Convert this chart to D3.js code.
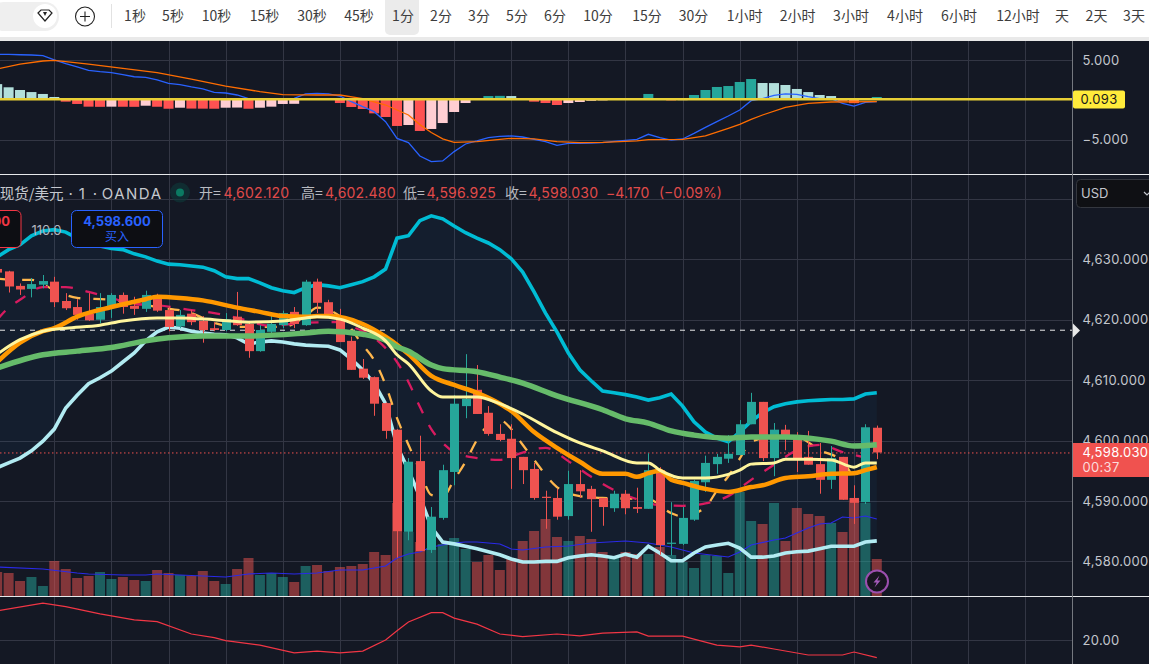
<!DOCTYPE html>
<html lang="zh">
<head>
<meta charset="utf-8">
<title>黄金现货/美元 1分钟图</title>
<script src="https://cdn.jsdelivr.net/npm/d3@7/dist/d3.min.js"></script>
<style>
html,body{margin:0;padding:0;background:#141824;overflow:hidden}
svg{display:block}
text{font-family:Inter,"Noto Sans CJK SC",sans-serif}
.cn{font-family:"Noto Sans CJK SC",Inter,sans-serif}
</style>
</head>
<body>
<svg id="chart" width="1149" height="664"></svg>
<script>
// Candle index of the first entry in every per-candle array below.
const firstCandle = -5;

const opens = [
4628.4,4628.0,4625.6,4625.1,4625.8,4626.3,4623.1,4622.1,4621.0,4620.0,
4622.1,4624.1,4622.3,4621.8,4624.1,4621.6,4618.9,4621.0,4619.8,4618.6,
4618.3,4620.5,4619.3,4614.8,4618.0,4619.1,4621.3,4619.1,4626.3,4622.9,
4620.5,4616.5,4611.9,4610.5,4606.2,4601.8,4584.9,4596.6,4581.9,4587.2,
4594.8,4605.7,4608.4,4604.6,4601.1,4600.3,4597.3,4595.3,4590.7,4590.5,
4587.5,4592.8,4592.0,4590.5,4588.8,4591.2,4589.0,4588.7,4595.1,4582.9,
4582.9,4586.9,4593.1,4596.1,4597.0,4597.6,4602.7,4606.4,4597.1,4601.8,
4600.8,4597.3,4596.1,4593.5,4597.3,4590.5,4589.8,4602.12];
const highs = [
4628.6,4628.1,4626.0,4626.9,4627.4,4627.1,4624.4,4623.4,4624.4,4624.4,
4624.4,4624.5,4623.8,4624.8,4624.3,4622.2,4621.6,4621.6,4620.6,4619.6,
4621.1,4624.6,4619.6,4619.1,4620.8,4621.5,4622.1,4626.6,4626.8,4623.3,
4621.8,4617.2,4613.5,4610.6,4606.3,4601.9,4597.1,4600.8,4589.0,4596.0,
4607.5,4614.3,4612.5,4605.7,4602.7,4602.7,4597.3,4596.3,4591.7,4592.0,
4595.0,4595.1,4592.5,4590.5,4591.7,4591.8,4592.2,4597.9,4595.6,4589.8,
4589.0,4593.5,4597.5,4597.8,4600.9,4603.4,4607.9,4606.4,4602.9,4602.6,
4601.4,4601.6,4599.6,4599.1,4597.3,4592.6,4602.7,4602.48];
const lows = [
4627.6,4624.5,4624.1,4623.7,4625.2,4622.1,4621.6,4620.0,4619.8,4619.4,
4620.3,4621.0,4620.8,4621.3,4621.3,4618.1,4618.6,4619.1,4616.2,4618.1,
4618.1,4619.0,4613.7,4614.7,4617.8,4618.6,4618.6,4619.0,4621.1,4620.5,
4616.3,4611.7,4610.2,4604.1,4600.3,4580.6,4583.5,4581.7,4581.4,4586.9,
4592.6,4603.7,4604.4,4600.8,4599.9,4592.0,4592.8,4590.2,4585.4,4586.9,
4586.9,4590.5,4584.9,4585.9,4588.2,4587.8,4588.0,4588.7,4581.1,4581.0,
4582.7,4586.7,4591.5,4594.5,4596.3,4597.6,4602.7,4596.6,4594.1,4598.4,
4594.8,4596.0,4591.2,4592.0,4590.2,4586.2,4589.5,4596.925];
const closes = [
4627.8,4625.5,4625.0,4625.9,4626.4,4622.9,4621.9,4620.8,4619.9,4622.1,
4624.1,4622.1,4621.8,4624.1,4621.5,4618.8,4620.8,4619.6,4618.3,4618.3,
4620.1,4619.1,4614.8,4618.3,4619.3,4621.1,4619.3,4626.3,4622.8,4620.5,
4616.3,4611.7,4610.4,4606.1,4601.6,4585.0,4596.5,4581.7,4587.4,4595.1,
4606.1,4606.9,4604.4,4601.1,4600.1,4597.1,4595.1,4590.5,4590.5,4587.4,
4592.8,4591.6,4590.3,4589.0,4591.2,4588.8,4588.7,4595.1,4582.7,4583.1,
4587.2,4593.3,4596.3,4597.3,4597.8,4602.7,4606.4,4597.1,4601.8,4600.8,
4597.1,4596.0,4593.5,4597.1,4590.2,4589.7,4602.2,4598.03];
const volumes = [
24,23,15,19,10,35,27,18,20,24,17,19,16,15,26,23,21,20,25,15,
12,27,38,21,23,19,14,30,31,25,29,30,32,44,41,93,64,54,48,52,
58,47,34,41,26,38,55,65,77,59,55,60,57,44,38,44,42,42,49,41,
34,28,41,40,23,104,75,72,93,55,88,82,80,73,64,98,93,37];

const upperBand = [
4630.4,4631.6,4632.4,4633.9,4634.7,4634.9,4634.5,4633.5,4632.7,4632.2,
4631.8,4631.6,4630.9,4630.4,4629.7,4629.2,4629.1,4628.9,4628.7,4628.1,
4627.1,4626.8,4626.8,4626.1,4625.3,4624.8,4624.5,4625.3,4625.8,4625.6,
4625.3,4625.8,4626.3,4627.1,4628.4,4633.5,4633.9,4636.4,4637.2,4636.7,
4635.5,4634.4,4633.5,4632.7,4631.6,4630.1,4627.9,4624.6,4621.1,4618.0,
4614.5,4611.7,4609.9,4608.2,4607.9,4607.6,4607.2,4606.7,4607.1,4607.7,
4605.7,4603.1,4601.4,4600.4,4599.8,4601.4,4603.2,4604.6,4605.6,4606.1,
4606.4,4606.6,4606.7,4606.8,4606.8,4606.9,4607.7,4607.9];
const lowerBand = [
4595.5,4596.3,4597.1,4598.3,4599.9,4601.9,4605.4,4607.5,4609.4,4610.4,
4611.5,4613.0,4614.5,4616.5,4618.0,4618.8,4618.6,4618.1,4617.8,4617.6,
4617.5,4617.0,4616.0,4616.3,4616.5,4616.3,4616.0,4615.8,4615.7,4615.6,
4615.0,4613.5,4611.7,4609.5,4606.1,4599.1,4595.1,4590.7,4585.7,4583.2,
4582.9,4582.5,4582.1,4581.6,4581.1,4580.4,4579.9,4579.9,4580.0,4580.0,
4580.6,4580.9,4581.1,4580.9,4580.6,4581.2,4580.7,4582.5,4581.4,4580.1,
4580.1,4581.4,4582.4,4582.7,4583.0,4582.2,4580.7,4580.7,4580.9,4581.4,
4581.6,4581.7,4582.1,4582.5,4582.5,4582.5,4583.2,4583.4];

// Moving averages, as [candle index, value] pairs.
const orangeAvg = [[-5,4613.0],[-3,4616.2],[-1,4618.1],[0,4618.6],[2,4620.5],[5,4622.1],[8,4623.4],[9,4623.8],[11,4623.6],[13,4623.2],[16,4622.0],[18,4621.3],[20,4620.6],[22,4620.5],[23,4620.6],[24,4620.6],[27,4619.3],[29,4617.2],[31,4614.3],[33,4610.7],[35,4609.2],[37,4607.9],[39,4606.1],[40,4604.9],[42,4601.4],[44,4598.8],[46,4596.5],[48,4594.5],[50,4594.5],[51,4594.0],[52,4594.6],[53,4595.0],[54,4593.5],[55,4593.0],[57,4592.0],[59,4591.5],[61,4592.3],[62,4592.6],[64,4593.8],[66,4594.1],[68,4594.5],[70,4594.6],[71,4595.1],[72,4595.6]];
const creamAvg = [[-5,4614.3],[-3,4616.7],[-1,4618.1],[1,4618.6],[4,4619.1],[6,4619.8],[9,4620.3],[11,4620.3],[14,4620.0],[17,4619.6],[20,4619.8],[22,4620.3],[23,4620.5],[25,4620.1],[27,4618.6],[29,4616.5],[30,4614.2],[31,4612.7],[33,4608.2],[34,4607.2],[37,4607.2],[39,4606.1],[41,4604.4],[44,4601.3],[46,4599.6],[48,4598.3],[51,4596.3],[52,4596.3],[53,4595.1],[55,4593.8],[57,4593.8],[59,4594.4],[60,4595.1],[61,4596.1],[63,4596.3],[64,4596.9],[66,4596.9],[68,4596.8],[70,4595.6],[71,4596.3],[72,4596.3]];
const greenAvg = [[-5,4612.0],[-1,4614.2],[2,4614.8],[5,4615.4],[8,4616.5],[10,4617.0],[13,4617.3],[17,4617.3],[22,4617.8],[24,4618.1],[27,4617.6],[29,4616.6],[30,4615.5],[31,4614.8],[33,4612.5],[34,4611.9],[37,4611.4],[39,4610.5],[41,4609.5],[44,4607.4],[48,4605.1],[50,4603.6],[52,4602.9],[54,4601.6],[56,4600.9],[59,4600.4],[61,4600.6],[64,4600.6],[68,4599.9],[70,4599.1],[72,4599.3]];
const pinkAvg = [[-5,4620.0],[-4,4622.0],[-3,4623.3],[-1,4625.4],[1,4625.4],[3,4624.6],[5,4623.6],[7,4622.6],[9,4622.4],[12,4621.6],[14,4621.1],[16,4620.3],[19,4619.0],[22,4619.5],[25,4619.6],[26,4618.9],[28,4617.0],[29,4615.3],[30,4613.0],[31,4609.7],[32,4605.6],[33,4601.9],[34,4599.6],[35,4598.1],[37,4597.1],[39,4596.8],[41,4598.0],[43,4598.8],[45,4596.6],[47,4594.0],[49,4591.8],[51,4590.3],[53,4589.3],[55,4589.2],[57,4589.6],[59,4590.8],[61,4593.5],[63,4596.0],[65,4598.4],[67,4599.3],[69,4598.1],[72,4596.8]];
const tanAvg = [[-5,4626.8],[-3,4626.6],[-2,4626.6],[0,4624.9],[2,4623.6],[5,4623.3],[9,4622.1],[12,4621.1],[14,4619.5],[16,4618.8],[20,4618.8],[22,4620.6],[23,4622.0],[25,4620.6],[27,4615.8],[28,4613.3],[29,4609.2],[30,4603.7],[31,4599.3],[32,4595.1],[33,4591.0],[34,4590.7],[35,4593.5],[36,4596.5],[37,4600.1],[38,4602.6],[39,4603.4],[40,4601.9],[41,4599.3],[42,4596.8],[44,4592.3],[46,4590.8],[48,4590.5],[52,4590.3],[54,4588.0],[55,4587.4],[57,4589.0],[58,4591.7],[59,4594.1],[60,4597.0],[61,4599.8],[63,4600.6],[65,4600.6],[67,4598.4],[69,4596.6],[70,4593.6]];
const volumeAvg = [[-5,29],[-1,27],[2,23],[3,22],[6,21],[8,21],[9,22],[11,21],[15,19],[17,22],[19,23],[21,22],[23,23],[25,26],[27,26],[29,30],[30,38],[31,42],[32,44],[33,49],[34,51],[35,53],[36,54],[37,54],[39,52],[40,47],[41,46],[43,49],[45,50],[47,53],[50,55],[52,53],[54,49],[55,46],[56,43],[59,39],[60,44],[61,51],[63,56],[64,58],[66,68],[67,72],[68,73],[69,79],[70,78],[71,80],[72,77]];

const macdHist = [
2.0,1.6,1.26,1.0,0.76,0.38,-0.21,-0.5,-0.84,-0.86,
-0.84,-0.85,-0.86,-0.72,-0.85,-1.1,-0.97,-1.08,-1.09,-1.1,
-0.97,-0.95,-1.1,-0.97,-0.84,-0.5,-0.48,0.05,0.25,0.1,
-0.38,-0.88,-1.13,-1.68,-2.14,-3.27,-3.15,-3.9,-3.65,-2.9,
-1.51,-0.38,0.25,0.5,0.52,0.5,0.25,-0.21,-0.38,-0.63,
-0.38,-0.25,-0.1,-0.05,0.02,0.2,0.21,0.76,0.25,-0.05,
-0.02,0.63,1.26,1.64,1.76,2.27,2.64,2.14,2.13,1.89,
1.39,1.0,0.63,0.5,-0.1,-0.4,0.25,0.38];
const macdLine = [
5.75,5.75,5.7,5.67,5.58,5.04,4.57,4.16,3.74,3.57,
3.44,3.19,2.93,2.86,2.52,2.1,1.93,1.64,1.39,0.97,
0.88,0.63,0.17,0.17,0.17,0.17,0.21,0.76,0.84,0.76,
0.5,-0.21,-0.84,-1.47,-2.73,-4.83,-5.37,-7.05,-7.77,-7.68,
-6.5,-5.54,-5.16,-4.74,-4.58,-4.53,-4.66,-4.95,-5.25,-5.71,
-5.46,-5.46,-5.42,-5.37,-5.2,-5.08,-4.95,-4.32,-4.74,-5.04,
-4.91,-4.2,-3.44,-2.73,-2.02,-1.26,-0.08,0.17,0.59,0.76,
0.71,0.42,0.17,0.17,-0.42,-0.76,-0.29,-0.21];
const signalLine = [[-5,3.9],[-3,4.53],[-1,4.91],[0,5.0],[3,4.53],[6,3.99],[9,3.44],[12,2.64],[15,1.76],[18,1.05],[20,0.67],[23,0.63],[25,0.63],[27,0.17],[29,-0.63],[31,-1.89],[32,-3.1],[33,-4.1],[34,-4.9],[35,-5.33],[37,-5.25],[40,-4.83],[42,-4.9],[44,-5.25],[46,-5.37],[48,-5.33],[51,-5.16],[52,-5.0],[55,-4.95],[57,-4.53],[59,-3.57],[60,-3.06],[61,-2.43],[62,-1.89],[64,-0.92],[66,-0.42],[68,-0.25],[72,-0.21]];

const lowerPaneLine = [[-5,29.7],[-1,32.3],[1,31.1],[4,28.7],[7,26.7],[9,26.1],[12,22],[14,20.8],[15,19.8],[18,18.3],[21,15.7],[23,16.3],[25,15.7],[27,16.3],[29,20],[30,23.1],[31,26],[33,29.1],[34,29.1],[35,27.3],[37,25.3],[39,22],[41,21.1],[44,22],[46,21.4],[48,22.3],[51,22.7],[52,21.3],[55,21.3],[58,18.3],[60,17.7],[61,18.3],[63,17],[66,15],[69,15],[70,16],[72,14.1]];

const priceTicks = [4580,4590,4600,4610,4620,4630];
const macdTicks = [5,-5];
const lowerTicks = [20];
const gridCandles = [0,5,10,15,20,25,30,35,40,45,50,55,60,65,70,75,80,85];
const lastPrice = 4598.03, dashedLevel = 4618.26, macdCurrent = 0.093;

const toolbarLabels = ["1秒","5秒","10秒","15秒","30秒","45秒","1分","2分","3分","5分","6分","10分","15分","30分","1小时","2小时","3小时","4小时","6小时","12小时","天","2天","3天"];
const toolbarCenters = [135,173,216.5,264.5,312,359,403,441,479,517,555,598,647,693.5,744.6,797.7,851,905,959,1018,1062,1096.5,1134];
const ohlcLabels = [["开=","4,602.120",199,223.4],["高=","4,602.480",301,325],["低=","4,596.925",403,426.6],["收=","4,598.030",505,528.5]];

const colors = {bg:"#141824",grid:"#333644",up:"#26a69a",down:"#ef5350",axisText:"#c3c6cd",sep:"#e6e8ea"};

const svg = d3.select("#chart");
const W = 1149, H = 664, axisX = 1072;

const x = d3.scaleLinear().domain([0,72]).range([54.3,876.8]);
const yPrice = d3.scaleLinear().domain([4580,4630]).range([561.4,259.3]);
const yVol = d3.scaleLinear().domain([0,120]).range([596,476]);
const yMacd = d3.scaleLinear().domain([-5,5]).range([139.7,60.3]);
const yLower = d3.scaleLinear().domain([20,30]).range([640,610]);

const candles = opens.map((o,i)=>({k:i+firstCandle,o,h:highs[i],l:lows[i],c:closes[i],v:volumes[i],up:closes[i]>=o}));
const at = arr => arr.map((v,i)=>[i+firstCandle,v]);

svg.append("rect").attr("width",W).attr("height",H).attr("fill",colors.bg);

// Clip regions for each pane
const defs = svg.append("defs");
[["clipMain",0,175,axisX,421],["clipMacd",0,41,axisX,133],["clipLower",0,597,axisX,67]].forEach(([id,a,b,w,h])=>{
  defs.append("clipPath").attr("id",id).append("rect").attr("x",a).attr("y",b).attr("width",w).attr("height",h);
});

// Grid
const grid = svg.append("g").attr("stroke",colors.grid).attr("stroke-width",1);
grid.selectAll("line.v").data(gridCandles).join("line").attr("class","v")
  .attr("x1",d=>Math.round(x(d))+.5).attr("x2",d=>Math.round(x(d))+.5).attr("y1",41).attr("y2",H);
const hLines = [...priceTicks,4640].map(yPrice).concat(macdTicks.map(yMacd),lowerTicks.map(yLower));
grid.selectAll("line.h").data(hLines).join("line").attr("class","h")
  .attr("x1",0).attr("x2",axisX).attr("y1",d=>Math.round(d)+.5).attr("y2",d=>Math.round(d)+.5);

// MACD pane
const macdPane = svg.append("g").attr("clip-path","url(#clipMacd)");
macdPane.selectAll("rect").data(macdHist.map((v,i)=>({k:i+firstCandle,v,prev:i?macdHist[i-1]:v+1}))).join("rect")
  .attr("x",d=>x(d.k)-5).attr("width",10)
  .attr("y",d=>Math.min(yMacd(0),yMacd(d.v)))
  .attr("height",d=>Math.abs(yMacd(d.v)-yMacd(0)))
  .attr("fill",d=>d.v>=0?(d.v>d.prev?"#26a69a":"#b2dfdb"):(d.v<d.prev?"#ff5252":"#ffcdd2"));
const xyLine = (yS,curve=d3.curveLinear)=>d3.line().x(d=>x(d[0])).y(d=>yS(d[1])).curve(curve);
macdPane.append("path").attr("d",xyLine(yMacd)(at(macdLine))).attr("fill","none").attr("stroke","#2962ff").attr("stroke-width",1.3);
macdPane.append("path").attr("d",xyLine(yMacd)(signalLine)).attr("fill","none").attr("stroke","#ff6d00").attr("stroke-width",1.3);
svg.append("line").attr("x1",0).attr("x2",axisX).attr("y1",yMacd(macdCurrent)).attr("y2",yMacd(macdCurrent)).attr("stroke","#e8cf36").attr("stroke-width",2.6);

// Main pane
const main = svg.append("g").attr("clip-path","url(#clipMain)");
const bandArea = d3.area().x((d,i)=>x(i+firstCandle)).y0((d,i)=>yPrice(lowerBand[i])).y1(d=>yPrice(d));
main.append("path").attr("d",bandArea(upperBand)).attr("fill","#2196f3").attr("fill-opacity",.05);

main.append("line").attr("x1",0).attr("x2",axisX).attr("y1",yPrice(dashedLevel)).attr("y2",yPrice(dashedLevel))
  .attr("stroke","#e8e8e8").attr("stroke-dasharray","5 5");
main.append("line").attr("x1",0).attr("x2",axisX).attr("y1",yPrice(lastPrice)+.5).attr("y2",yPrice(lastPrice)+.5)
  .attr("stroke","#f0524f").attr("stroke-dasharray","1.5 2.5");

main.append("g").selectAll("rect").data(candles).join("rect")
  .attr("x",d=>x(d.k)-5).attr("width",10)
  .attr("y",d=>yVol(d.v)).attr("height",d=>yVol(0)-yVol(d.v))
  .attr("fill",d=>d.up?colors.up:colors.down).attr("fill-opacity",.5);
main.append("path").attr("d",xyLine(yVol)(volumeAvg)).attr("fill","none").attr("stroke","#2a2ae8").attr("stroke-width",1.2);

const smooth = d3.curveMonotoneX;
main.append("path").attr("d",xyLine(yPrice)(at(upperBand))).attr("fill","none").attr("stroke","#00bcd4").attr("stroke-width",3.6);
main.append("path").attr("d",xyLine(yPrice)(at(lowerBand))).attr("fill","none").attr("stroke","#b2ebf2").attr("stroke-width",3.6);
main.append("path").attr("d",xyLine(yPrice,smooth)(tanAvg)).attr("fill","none").attr("stroke","#ffb74d").attr("stroke-width",2.3).attr("stroke-dasharray","12 13");
main.append("path").attr("d",xyLine(yPrice,smooth)(pinkAvg)).attr("fill","none").attr("stroke","#d81b60").attr("stroke-width",2.3).attr("stroke-dasharray","12 13");

const candleG = main.append("g");
candleG.selectAll("line").data(candles).join("line")
  .attr("x1",d=>Math.round(x(d.k))+.5).attr("x2",d=>Math.round(x(d.k))+.5)
  .attr("y1",d=>yPrice(d.h)).attr("y2",d=>yPrice(d.l))
  .attr("stroke",d=>d.up?colors.up:colors.down);
candleG.selectAll("rect").data(candles).join("rect")
  .attr("x",d=>Math.round(x(d.k))-4).attr("width",9)
  .attr("y",d=>yPrice(Math.max(d.o,d.c)))
  .attr("height",d=>Math.max(1,Math.abs(yPrice(d.o)-yPrice(d.c))))
  .attr("fill",d=>d.up?colors.up:colors.down);

main.append("path").attr("d",xyLine(yPrice,smooth)(orangeAvg)).attr("fill","none").attr("stroke","#ff9800").attr("stroke-width",4.5);
main.append("path").attr("d",xyLine(yPrice,smooth)(greenAvg)).attr("fill","none").attr("stroke","#66bb6a").attr("stroke-width",5.5);
main.append("path").attr("d",xyLine(yPrice,smooth)(creamAvg)).attr("fill","none").attr("stroke","#fff59d").attr("stroke-width",3);

// Lower pane
svg.append("g").attr("clip-path","url(#clipLower)").append("path")
  .attr("d",xyLine(yLower)(lowerPaneLine)).attr("fill","none").attr("stroke","#f23645").attr("stroke-width",1.2);

// Pane separators and price scale border
[174.5,596.5].forEach(v=>svg.append("line").attr("x1",0).attr("x2",W).attr("y1",v).attr("y2",v).attr("stroke",colors.sep));
svg.append("line").attr("x1",axisX+.5).attr("x2",axisX+.5).attr("y1",41).attr("y2",H).attr("stroke","#75787f");

// Axis labels
function rightAxis(scale,ticks,fmt){
  const g = svg.append("g").attr("transform",`translate(1082.5,0)`)
    .call(d3.axisRight(scale).tickValues(ticks).tickFormat(fmt).tickSize(0).tickPadding(0));
  g.select(".domain").remove();
  g.selectAll("text").attr("fill",colors.axisText).attr("font-size",13).attr("letter-spacing",.3)
    .style("font-family","Inter,sans-serif");
}
rightAxis(yPrice,priceTicks,d3.format(",.3f"));
rightAxis(yMacd,macdTicks,d3.format(".3f"));
rightAxis(yLower,lowerTicks,d3.format(".2f"));

// Current MACD tag
svg.append("rect").attr("x",1073).attr("y",90.5).attr("width",52).attr("height",18).attr("rx",2).attr("fill","#ffeb3b");
svg.append("text").attr("x",1099).attr("y",104).attr("text-anchor","middle").attr("font-size",13).attr("letter-spacing",.3).attr("fill","#1a1a1a").text(d3.format(".3f")(macdCurrent));

// Last price tag
svg.append("rect").attr("x",1073).attr("y",443).attr("width",76).attr("height",34).attr("fill","#f0524f");
svg.append("text").attr("x",1082.5).attr("y",456.5).attr("font-size",13).attr("letter-spacing",.3).attr("fill","#fff").text(d3.format(",.3f")(lastPrice));
svg.append("text").attr("x",1082.5).attr("y",471.5).attr("font-size",13).attr("letter-spacing",.3).attr("fill","#fbdcdc").text("00:37");
svg.append("path").attr("d","M1073 323.5 L1080 330.5 L1073 337.5 Z").attr("fill","#e8e8e8");

// Currency selector
svg.append("rect").attr("x",1076.5).attr("y",179.5).attr("width",80).attr("height",28).attr("rx",4).attr("fill","#0f1014").attr("stroke","#34373f");
svg.append("text").attr("x",1081).attr("y",198).attr("font-size",13).attr("fill",colors.axisText).text("USD");
svg.append("path").attr("d","M1144 192 L1147 195 L1150 192").attr("fill","none").attr("stroke",colors.axisText).attr("stroke-width",1.2);

// Symbol legend, set in pieces so the separators keep their tight spacing
const legendFill = "#c6c8ce";
svg.append("text").attr("class","cn").attr("x",63.5).attr("y",198.5).attr("text-anchor","end").attr("font-size",14.5).attr("fill",legendFill).text("黄金现货/美元");
[["·",70.7],["1",81.7],["·",95]].forEach(([t,px])=>{
  svg.append("text").attr("x",px).attr("y",198.5).attr("text-anchor","middle").attr("font-size",15).attr("fill",legendFill).text(t);
});
svg.append("text").attr("x",101.7).attr("y",198.5).attr("font-size",15).attr("textLength",59.3).attr("lengthAdjust","spacing").attr("fill",legendFill).text("OANDA");
svg.append("circle").attr("cx",180).attr("cy",192.5).attr("r",10).attr("fill","#0d3a3a").attr("fill-opacity",.6);
svg.append("circle").attr("cx",180).attr("cy",192.5).attr("r",4).attr("fill","#0b7a62");
ohlcLabels.forEach(([a,b,xa,xb])=>{
  svg.append("text").attr("class","cn").attr("x",xa).attr("y",198).attr("font-size",14).attr("fill","#b8bac0").text(a);
  svg.append("text").attr("x",xb).attr("y",198).attr("font-size",14).attr("letter-spacing",.2).attr("fill","#e04b4a").text(b);
});
svg.append("text").attr("x",606).attr("y",198).attr("font-size",14).attr("letter-spacing",.1).attr("fill","#e04b4a").text("−4.170");
svg.append("text").attr("x",659).attr("y",198).attr("font-size",14).attr("fill","#e04b4a").text("(−0.09%)");

// Order buttons
svg.append("rect").attr("x",-40).attr("y",210.5).attr("width",61).attr("height",37).attr("rx",5).attr("fill","#0d0e13").attr("stroke","#f23645");
svg.append("text").attr("x",10).attr("y",226).attr("text-anchor","end").attr("font-size",13).attr("font-weight",700).attr("fill","#f23645").text("4,598.000");
svg.append("rect").attr("x",71.5).attr("y",210.5).attr("width",91).attr("height",37).attr("rx",5).attr("fill","#0d0e13").attr("stroke","#2962ff");
svg.append("text").attr("x",117).attr("y",226).attr("text-anchor","middle").attr("font-size",13).attr("font-weight",700).attr("fill","#2962ff").text("4,598.600");
svg.append("text").attr("class","cn").attr("x",117).attr("y",241).attr("text-anchor","middle").attr("font-size",12).attr("fill","#2962ff").text("买入");
svg.append("text").attr("x",46.5).attr("y",234.5).attr("text-anchor","middle").attr("font-size",13).attr("fill","#b2b5be").text("110.0");

// Alert button
const bolt = svg.append("g").attr("transform","translate(877,581.5)");
bolt.append("circle").attr("r",11).attr("fill","#17151f").attr("stroke","#9c4fae").attr("stroke-width",2);
bolt.append("path").attr("d","M2.5 -6 L-3.5 1 L-0.3 1 L-2.5 6 L3.5 -1 L0.3 -1 Z").attr("fill","#a45ab8");

// Toolbar
svg.append("rect").attr("width",W).attr("height",37).attr("fill","#fff");
svg.append("rect").attr("y",37).attr("width",W).attr("height",4).attr("fill","#e9e9e9");
svg.append("rect").attr("x",-10).attr("y",2).attr("width",69).attr("height",29).attr("rx",14).attr("fill","#efefef");
svg.append("circle").attr("cx",45).attr("cy",16).attr("r",12).attr("fill","#fff");
svg.append("path").attr("d","M38 13 L41 10 L49 10 L52 13 L45 21 Z").attr("fill","none").attr("stroke","#222").attr("stroke-width",1.2);
svg.append("path").attr("d","M43 12 L47 12 L45 16 Z").attr("fill","#222");
svg.append("circle").attr("cx",85).attr("cy",16.5).attr("r",9.5).attr("fill","none").attr("stroke","#222").attr("stroke-width",1.1);
svg.append("path").attr("d","M80 16.5 H90 M85 11.5 V21.5").attr("stroke","#222").attr("stroke-width",1.1);
svg.append("line").attr("x1",111.5).attr("x2",111.5).attr("y1",4).attr("y2",28).attr("stroke","#e2e2e2");
svg.append("rect").attr("x",385).attr("y",-6).attr("width",34).attr("height",41).attr("rx",5).attr("fill","#ebebeb");
svg.append("g").selectAll("text").data(toolbarLabels).join("text").attr("class","cn")
  .attr("x",(d,i)=>toolbarCenters[i]).attr("y",20.5).attr("text-anchor","middle").attr("font-size",14).attr("fill","#3d3d3d").text(d=>d);
</script>
</body>
</html>
